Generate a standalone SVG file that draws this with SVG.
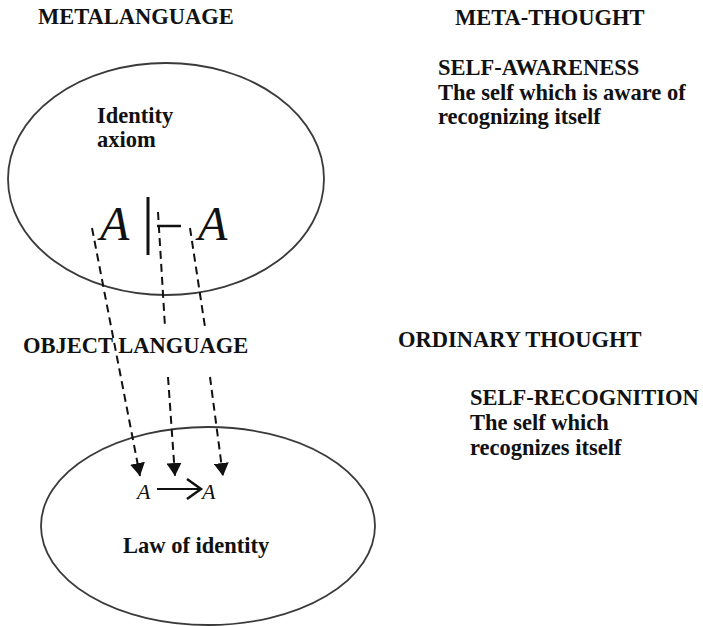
<svg xmlns="http://www.w3.org/2000/svg" width="703" height="626" viewBox="0 0 703 626">
  <style>
    .lbl { font-family: "Liberation Serif", "Times New Roman", serif; font-weight: bold; font-size: 22.5px; fill: #111; }
    .sym { font-family: "Liberation Serif", "Times New Roman", serif; font-style: italic; fill: #111; }
    .oval { fill: none; stroke: #3a3a3a; stroke-width: 1.8; }
    .dash { fill: none; stroke: #111; stroke-width: 2; stroke-dasharray: 8 5; }
  </style>
  <defs>
    <marker id="head" markerUnits="userSpaceOnUse" viewBox="0 0 13 15" markerWidth="13" markerHeight="15" refX="13" refY="7.5" orient="auto">
      <path d="M0,0 L13,7.5 L0,15 Z" fill="#111"/>
    </marker>
  </defs>
  <rect width="703" height="626" fill="#fff"/>

  <!-- column headings -->
  <g id="metalanguage">
    <text class="lbl" x="38" y="24">METALANGUAGE</text>
  </g>
  <g id="meta-thought">
    <text class="lbl" x="455" y="25">META-THOUGHT</text>
  </g>
  <g id="self-awareness">
    <text class="lbl" x="438" y="75">SELF-AWARENESS</text>
    <text class="lbl" x="438" y="100">The self which is aware of</text>
    <text class="lbl" x="438" y="124">recognizing itself</text>
  </g>
  <g id="object-language">
    <text class="lbl" x="23" y="353">OBJECT LANGUAGE</text>
  </g>
  <g id="ordinary-thought">
    <text class="lbl" x="398" y="347">ORDINARY THOUGHT</text>
  </g>
  <g id="self-recognition">
    <text class="lbl" x="470" y="405">SELF-RECOGNITION</text>
    <text class="lbl" x="470" y="430">The self which</text>
    <text class="lbl" x="470" y="455">recognizes itself</text>
  </g>

  <!-- upper oval: identity axiom A |- A -->
  <g id="identity-axiom">
    <ellipse class="oval" cx="166" cy="179" rx="158" ry="116"/>
    <text class="lbl" x="97" y="123">Identity</text>
    <text class="lbl" x="97" y="147">axiom</text>
    <text class="sym" x="100" y="240" font-size="48">A</text>
    <line x1="148" y1="197" x2="148" y2="255" stroke="#111" stroke-width="3"/>
    <line x1="157" y1="226" x2="181" y2="226" stroke="#111" stroke-width="2.5"/>
    <text class="sym" x="198" y="240" font-size="48">A</text>
  </g>

  <!-- lower oval: law of identity A -> A -->
  <g id="law-of-identity">
    <ellipse class="oval" cx="208" cy="526" rx="167" ry="99"/>
    <text class="sym" x="137" y="499" font-size="22">A</text>
    <line x1="157" y1="489" x2="200" y2="489" stroke="#111" stroke-width="2.2"/>
    <polyline points="187,479 201,489 187,499" fill="none" stroke="#111" stroke-width="2.5"/>
    <text class="sym" x="202" y="499" font-size="22">A</text>
    <text class="lbl" x="123" y="553">Law of identity</text>
  </g>

  <!-- dashed mappings from the axiom to the law -->
  <g id="connectors">
    <line class="dash" x1="92" y1="228" x2="140" y2="476" marker-end="url(#head)"/>
    <line class="dash" x1="158" y1="212" x2="165" y2="327"/>
    <line class="dash" x1="168" y1="377" x2="175" y2="476" marker-end="url(#head)"/>
    <line class="dash" x1="190" y1="228" x2="205" y2="327"/>
    <line class="dash" x1="210" y1="377" x2="223" y2="476" marker-end="url(#head)"/>
  </g>
</svg>
